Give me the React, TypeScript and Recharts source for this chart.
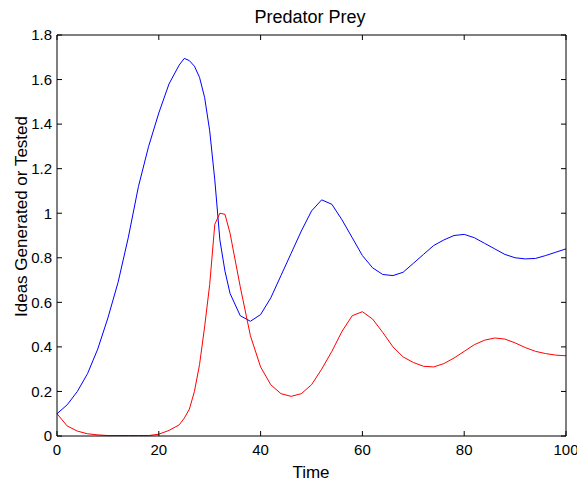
import { LineChart, Line, XAxis, YAxis } from "recharts";

// time grid
const time = [
  0, 2, 4, 6, 8, 10, 12, 14, 16, 18, 20, 22, 24, 25, 26, 27, 28, 29, 30, 31,
  32, 33, 34, 36, 38, 40, 42, 44, 46, 48, 50, 52, 54, 56, 58, 60, 62, 64, 66,
  68, 70, 72, 74, 76, 78, 80, 82, 84, 86, 88, 90, 92, 94, 96, 98, 100,
];

// blue curve
const predator = [
  0.1, 0.14, 0.2, 0.28, 0.39, 0.53, 0.69, 0.89, 1.12, 1.3, 1.45, 1.58, 1.665,
  1.695, 1.685, 1.66, 1.61, 1.52, 1.37, 1.15, 0.88, 0.74, 0.64, 0.54, 0.515,
  0.545, 0.62, 0.72, 0.82, 0.92, 1.01, 1.06, 1.04, 0.97, 0.89, 0.81, 0.755,
  0.725, 0.72, 0.735, 0.775, 0.815, 0.855, 0.88, 0.9, 0.905, 0.89, 0.865, 0.84,
  0.815, 0.8, 0.795, 0.797, 0.81, 0.825, 0.84,
];

// red curve
const prey = [
  0.1, 0.045, 0.022, 0.01, 0.005, 0.002, 0.002, 0.002, 0.002, 0.002, 0.008,
  0.025, 0.05, 0.08, 0.12, 0.2, 0.32, 0.49, 0.68, 0.95, 1.0, 0.995, 0.91, 0.67,
  0.45, 0.31, 0.23, 0.19, 0.178, 0.19, 0.23, 0.3, 0.38, 0.47, 0.54, 0.558,
  0.525, 0.465, 0.4, 0.355, 0.33, 0.313, 0.31, 0.325, 0.35, 0.38, 0.41, 0.43,
  0.44, 0.435, 0.418, 0.397, 0.38, 0.37, 0.363, 0.36,
];

const xTicks = [0, 20, 40, 60, 80, 100];
const yTicks = [0, 0.2, 0.4, 0.6, 0.8, 1, 1.2, 1.4, 1.6, 1.8];

const data = time.map((t, i) => ({ t, predator: predator[i], prey: prey[i] }));

const FONT = "'Liberation Sans', Arial, sans-serif";
const tickStyle = { fill: "#000", fontSize: 15, fontFamily: FONT };
const noTick = () => <g />;

export default function App() {
  return (
    <div style={{ position: "absolute", left: 0, top: 0, width: 577, height: 481, background: "#fff" }}>
      <LineChart
        width={577}
        height={481}
        data={data}
        margin={{ top: 30, right: 0, bottom: 0, left: 0 }}
      >
        <XAxis
          dataKey="t"
          type="number"
          domain={[0, 100]}
          ticks={xTicks}
          height={45}
          tickSize={-5}
          tickMargin={13}
          stroke="#000"
          tick={tickStyle}
          interval={0}
        />
        <XAxis
          xAxisId="top"
          dataKey="t"
          type="number"
          orientation="top"
          domain={[0, 100]}
          ticks={xTicks}
          height={5}
          tickSize={-5}
          stroke="#000"
          tick={noTick}
        />
        <YAxis
          type="number"
          domain={[0, 1.8]}
          ticks={yTicks}
          width={57}
          tickSize={-5}
          tickMargin={10}
          stroke="#000"
          tick={tickStyle}
          interval={0}
        />
        <YAxis
          yAxisId="right"
          orientation="right"
          type="number"
          domain={[0, 1.8]}
          ticks={yTicks}
          width={11}
          tickSize={-5}
          stroke="#000"
          tick={noTick}
        />
        <Line
          type="linear"
          dataKey="predator"
          stroke="#0000ff"
          strokeWidth={1}
          dot={false}
          isAnimationActive={false}
        />
        <Line
          xAxisId="top"
          yAxisId="right"
          type="linear"
          dataKey="prey"
          stroke="#ff0000"
          strokeWidth={1}
          dot={false}
          isAnimationActive={false}
        />
      </LineChart>
      <svg
        width={577}
        height={481}
        style={{ position: "absolute", left: 0, top: 0, pointerEvents: "none" }}
        fontFamily={FONT}
      >
        <text x={310} y={22.5} textAnchor="middle" fontSize={18} fill="#000">
          Predator Prey
        </text>
        <text x={311} y={477.5} textAnchor="middle" fontSize={17} fill="#000">
          Time
        </text>
        <text
          x={27}
          y={216.5}
          textAnchor="middle"
          fontSize={17}
          fill="#000"
          transform="rotate(-90 27 216.5)"
        >
          Ideas Generated or Tested
        </text>
      </svg>
    </div>
  );
}
